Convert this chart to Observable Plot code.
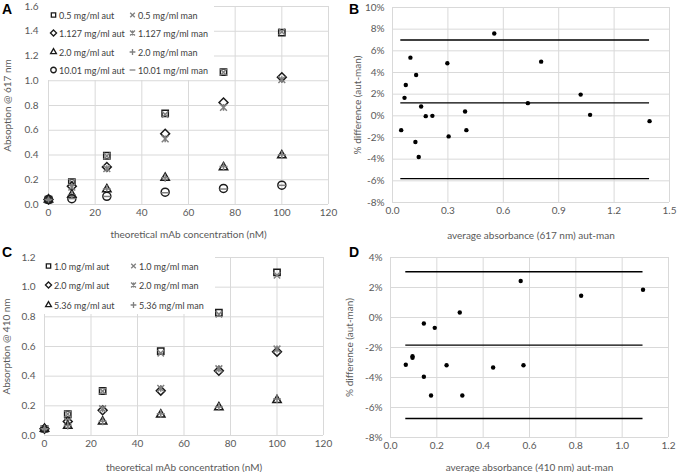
<!DOCTYPE html>
<html><head><meta charset="utf-8">
<script src="https://cdn.jsdelivr.net/npm/d3@7"></script>
<script src="https://cdn.jsdelivr.net/npm/@observablehq/plot@0.6"></script>
<style>
body{margin:0;background:#fff;}
#wrap{position:relative;width:677px;height:472px;overflow:hidden;font-family:Lato,"Open Sans",sans-serif;}
.panel{position:absolute;}
.letter{position:absolute;font:bold 14px "Liberation Sans",Arial,sans-serif;color:#000;line-height:14px;}
.legend{position:absolute;background:#fff;}
.legend .item{position:absolute;white-space:nowrap;display:flex;align-items:center;font-size:9px;color:#404040;height:12px;}
.legend svg{display:block;margin-right:1px;}
</style></head><body><div id="wrap"></div>
<script>
// ---------- Panel A data (617 nm) ----------
const concA = [0, 10, 25, 50, 75, 100];
const seriesA = ["0.5 mg/ml", "1.127 mg/ml", "2.0 mg/ml", "10.01 mg/ml"];
const autA_05   = [0.04, 0.180, 0.394, 0.737, 1.070, 1.389];
const manA_05   = [0.04, 0.180, 0.392, 0.728, 1.069, 1.396];
const autA_1127 = [0.04, 0.148, 0.304, 0.572, 0.825, 1.029];
const manA_1127 = [0.04, 0.140, 0.290, 0.530, 0.785, 1.009];
const autA_20   = [0.04, 0.079, 0.123, 0.216, 0.301, 0.397];
const manA_20   = [0.04, 0.077, 0.126, 0.216, 0.307, 0.402];
const autA_1001 = [0.04, 0.047, 0.066, 0.100, 0.130, 0.156];
const manA_1001 = [0.04, 0.048, 0.065, 0.095, 0.125, 0.155];
const xTicksA = [0, 20, 40, 60, 80, 100, 120];
const yTicksA = [0, 0.2, 0.4, 0.6, 0.8, 1.0, 1.2, 1.4, 1.6];

// ---------- Panel B data ----------
const bX = [0.047,0.065,0.072,0.097,0.124,0.128,0.142,0.155,0.180,0.216,0.297,0.304,0.393,0.400,0.551,0.733,0.805,1.019,1.070,1.392];
const bY = [-1.32,1.66,2.85,5.37,-2.42,3.77,-3.80,0.86,-0.03,0.00,4.85,-1.90,0.40,-1.32,7.60,1.17,5.00,1.96,0.09,-0.49];
const bLimits = [7.0, 1.2, -5.8];
const bRange = [0.045, 1.392];
const xTicksB = [0, 0.3, 0.6, 0.9, 1.2, 1.5];
const yTicksB = [-8, -6, -4, -2, 0, 2, 4, 6, 8, 10];

// ---------- Panel C data (410 nm) ----------
const concC = [0, 10, 25, 50, 75, 100];
const seriesC = ["1.0 mg/ml", "2.0 mg/ml", "5.36 mg/ml"];
const autC_10  = [0.045, 0.144, 0.300, 0.569, 0.829, 1.100];
const manC_10  = [0.045, 0.145, 0.299, 0.555, 0.817, 1.080];
const autC_20  = [0.045, 0.094, 0.170, 0.302, 0.436, 0.565];
const manC_20  = [0.045, 0.096, 0.180, 0.318, 0.450, 0.583];
const autC_536 = [0.045, 0.065, 0.094, 0.141, 0.190, 0.238];
const manC_536 = [0.045, 0.067, 0.096, 0.147, 0.192, 0.246];
const xTicksC = [0, 20, 40, 60, 80, 100, 120];
const yTicksC = [0, 0.2, 0.4, 0.6, 0.8, 1.0, 1.2];

// ---------- Panel D data ----------
const dX = [0.066,0.095,0.095,0.144,0.144,0.175,0.191,0.242,0.299,0.310,0.443,0.562,0.574,0.823,1.090];
const dY = [-3.15,-2.58,-2.69,-0.40,-3.95,-5.20,-0.69,-3.18,0.33,-5.20,-3.33,2.43,-3.18,1.45,1.85];
const dLimits = [3.05, -1.84, -6.73];
const dRange = [0.066, 1.09];
const xTicksD = [0, 0.2, 0.4, 0.6, 0.8, 1.0, 1.2];
const yTicksD = [-8, -6, -4, -2, 0, 2, 4];

// ---------- symbols ----------
const symStar = {draw(ctx, size) {
  const r = Math.sqrt(size / Math.PI) * 0.85;
  ctx.moveTo(-r, -r); ctx.lineTo(r, r);
  ctx.moveTo(-r, r); ctx.lineTo(r, -r);
  ctx.moveTo(0, -r); ctx.lineTo(0, r);
}};
const symDash = {draw(ctx, size) {
  const r = Math.sqrt(size / Math.PI);
  ctx.moveTo(-r, 0); ctx.lineTo(r, 0);
}};
const symTimes = {draw(ctx, size) {
  const r = Math.sqrt(size / Math.PI) * 0.8;
  ctx.moveTo(-r, -r); ctx.lineTo(r, r);
  ctx.moveTo(-r, r); ctx.lineTo(r, -r);
}};
const symPlus = {draw(ctx, size) {
  const r = Math.sqrt(size / Math.PI);
  ctx.moveTo(-r, 0); ctx.lineTo(r, 0);
  ctx.moveTo(0, -r); ctx.lineTo(0, r);
}};
const autSyms = [d3.symbolSquare2, d3.symbolDiamond2, d3.symbolTriangle2, d3.symbolCircle];
const manSyms = [symTimes, symStar, symPlus, symDash];
const AUT = "#1a1a1a", MAN = "#808080", GRID = "#d9d9d9";

const style = {fontFamily: "Lato, 'Open Sans', sans-serif", fontSize: "10px", color: "#595959", background: "transparent", overflow: "visible"};
const wrap = document.getElementById("wrap");

function place(node, left, top, width) {
  const d = document.createElement("div");
  d.className = "panel";
  d.style.left = left + "px"; d.style.top = top + "px";
  if (width) d.style.width = width + "px";
  d.appendChild(node);
  wrap.appendChild(d);
  return d;
}
function letter(t, left, top) {
  const d = document.createElement("div");
  d.className = "letter"; d.textContent = t;
  d.style.left = left + "px"; d.style.top = top + "px";
  wrap.appendChild(d);
}
function legend(names, box, rows, col1, col2) {
  const L = document.createElement("div");
  L.className = "legend";
  Object.assign(L.style, {left: box[0] + "px", top: box[1] + "px", width: box[2] + "px", height: box[3] + "px"});
  names.forEach((nm, i) => {
    [[col1, autSyms[i], AUT, nm + " aut", 24], [col2, manSyms[i], MAN, nm + " man", 26]].forEach(([cx, sym, col, txt, sz]) => {
      const it = document.createElement("div");
      it.className = "item";
      it.style.left = (cx - 5 - box[0]) + "px";
      it.style.top = (rows[i] - 6 - box[1]) + "px";
      const svg = d3.create("svg").attr("width", 9).attr("height", 10);
      svg.append("path").attr("transform", "translate(4.5,5)")
        .attr("d", d3.symbol(sym, sz)()).attr("fill", "none").attr("stroke", col).attr("stroke-width", 1.3);
      it.appendChild(svg.node());
      const sp = document.createElement("span"); sp.textContent = txt;
      it.appendChild(sp);
      L.appendChild(it);
    });
  });
  wrap.appendChild(L);
}

function scatterMarks(conc, auts, mans) {
  const marks = [];
  auts.forEach((a, i) => {
    marks.push(Plot.dot(conc, {x: d => d, y: (d, j) => a[j], symbol: autSyms[i], r: 4, stroke: AUT, strokeWidth: 1.5, fill: "none"}));
    marks.push(Plot.dot(conc, {x: d => d, y: (d, j) => mans[i][j], symbol: manSyms[i], r: 4, stroke: MAN, strokeWidth: 1.5, fill: "none"}));
  });
  return marks;
}

// ---------- Panel A ----------
const plotA = Plot.plot({
  width: 338, height: 240, marginLeft: 48, marginRight: 10, marginTop: 6, marginBottom: 36,
  style,
  x: {domain: [0, 120]},
  y: {domain: [0, 1.6]},
  marks: [
    Plot.gridX(xTicksA, {stroke: GRID, strokeOpacity: 1}),
    Plot.gridY(yTicksA, {stroke: GRID, strokeOpacity: 1}),
    Plot.axisX(xTicksA, {tickSize: 0, tickPadding: 4, label: "theoretical mAb concentration (nM)", labelAnchor: "center", labelArrow: "none", labelOffset: 33}),
    Plot.axisY(yTicksA, {tickSize: 0, tickPadding: 10, tickFormat: d3.format(".1f"), label: "Absoption @ 617 nm", labelAnchor: "center", labelArrow: "none", labelOffset: 45}),
    ...scatterMarks(concA, [autA_05, autA_1127, autA_20, autA_1001], [manA_05, manA_1127, manA_20, manA_1001])
  ]
});
place(plotA, 0, 0, 338);
legend(seriesA, [48, 6, 166, 74], [15, 33, 52, 70], 54, 133);

// ---------- Panel B ----------
const blandMarks = (xs, ys, lim, rng, xt, yt, xl, yl, xo, yo) => [
  Plot.gridX(xt, {stroke: GRID, strokeOpacity: 1}),
  Plot.gridY(yt, {stroke: GRID, strokeOpacity: 1}),
  Plot.axisX(xt, {tickSize: 0, tickPadding: 4, tickFormat: d3.format(".1f"), label: xl, labelAnchor: "center", labelArrow: "none", labelOffset: xo}),
  Plot.axisY(yt, {tickSize: 0, tickPadding: 8, tickFormat: d => d + "%", label: yl, labelAnchor: "center", labelArrow: "none", labelOffset: yo}),
  Plot.ruleY(lim, {y: d => d, x1: rng[0], x2: rng[1], stroke: "#000", strokeWidth: 1.4}),
  Plot.dot(xs, {x: d => d, y: (d, i) => ys[i], r: 2.2, fill: "#000"})
];
const plotB = Plot.plot({
  width: 337, height: 240, marginLeft: 52, marginRight: 8, marginTop: 7, marginBottom: 38,
  style,
  x: {domain: [0, 1.5]},
  y: {domain: [-8, 10]},
  marks: blandMarks(bX, bY, bLimits, bRange, xTicksB, yTicksB, "average absorbance (617 nm) aut-man", "% difference (aut-man)", 36, 39)
});
place(plotB, 340, 0, 337);

// ---------- Panel C ----------
const plotC = Plot.plot({
  width: 338, height: 232, marginLeft: 44, marginRight: 15, marginTop: 17, marginBottom: 37,
  style,
  x: {domain: [0, 120]},
  y: {domain: [0, 1.2]},
  marks: [
    Plot.gridX(xTicksC, {stroke: GRID, strokeOpacity: 1}),
    Plot.gridY(yTicksC, {stroke: GRID, strokeOpacity: 1}),
    Plot.axisX(xTicksC, {tickSize: 0, tickPadding: 4, label: "theoretical mAb concentration (nM)", labelAnchor: "center", labelArrow: "none", labelOffset: 35}),
    Plot.axisY(yTicksC, {tickSize: 0, tickPadding: 9, tickFormat: d3.format(".1f"), label: "Absorption @ 410 nm", labelAnchor: "center", labelArrow: "none", labelOffset: 42}),
    ...scatterMarks(concC, [autC_10, autC_20, autC_536], [manC_10, manC_20, manC_536])
  ]
});
place(plotC, 0, 240, 338);
legend(seriesC, [44, 257, 171, 57], [266, 285, 305], 49, 134);

// ---------- Panel D ----------
const plotD = Plot.plot({
  width: 337, height: 232, marginLeft: 50, marginRight: 9, marginTop: 17, marginBottom: 35,
  style,
  x: {domain: [0, 1.2]},
  y: {domain: [-8, 4]},
  marks: blandMarks(dX, dY, dLimits, dRange, xTicksD, yTicksD, "average absorbance (410 nm) aut-man", "% difference (aut-man)", 33, 45)
});
place(plotD, 340, 240, 337);

letter("A", 2, 2);
letter("B", 349, 2);
letter("C", 2, 245);
letter("D", 349, 245);
</script></body></html>
